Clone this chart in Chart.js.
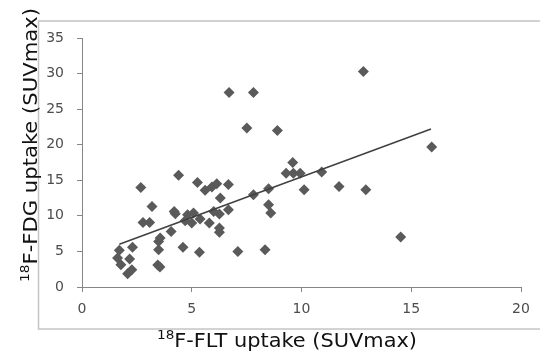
<!DOCTYPE html>
<html>
<head>
<meta charset="utf-8">
<script src="https://cdn.jsdelivr.net/npm/chart.js"></script>
<style>
    html, body { margin: 0; padding: 0; background: #fff; }
</style>
</head>
<body>
<canvas id="myChart" width="540" height="352"></canvas>
<script>
// values
const fltValues = [1.62, 1.7, 1.77, 2.08, 2.17, 2.27, 2.3, 2.68, 2.78, 3.08,
    3.19, 3.49, 3.56, 3.49, 3.45, 3.55, 4.06, 4.2, 4.25, 4.4,
    4.6, 4.7, 4.81, 5.0, 5.08, 5.26, 5.35, 5.38, 5.61, 5.8,
    5.92, 6.0, 6.14, 6.26, 6.3, 6.26, 6.26, 6.67, 6.67, 6.7,
    7.1, 7.51, 7.81, 7.81, 8.34, 8.5, 8.5, 8.6, 8.9, 9.3,
    9.6, 9.63, 9.94, 10.12, 10.92, 11.71, 12.82, 12.93, 14.52, 15.93]
const fdgValues = [4.07, 5.15, 3.13, 1.87, 3.93, 2.43, 5.6, 14.0, 9.08, 9.08,
    11.33, 6.4, 6.9, 5.24, 3.1, 2.8, 7.8, 10.63, 10.3, 15.7,
    5.6, 9.3, 10.16, 9.0, 10.4, 14.7, 4.87, 9.56, 13.6, 9.0,
    14.05, 10.63, 14.5, 10.26, 12.5, 8.3, 7.68, 14.4, 10.87, 27.35,
    5.0, 22.35, 27.35, 12.97, 5.24, 13.8, 11.57, 10.4, 22.0, 16.0,
    17.5, 16.0, 16.0, 13.68, 16.16, 14.14, 30.3, 13.68, 7.03, 19.68]
const trendX = [1.7, 15.9]
const trendY = [6.0, 22.2]
const xTitle = ['18', 'F-FLT uptake (SUVmax)']
const yTitle = ['18', 'F-FDG uptake (SUVmax)']

// title with a superscript prefix, stretched a little to the reference length
const drawTitle = (c, parts, x, y, angle, length) => {
    c.save()
    c.translate(x, y)
    c.rotate(angle)
    c.font = '13px "DejaVu Sans"'
    let w = c.measureText(parts[0]).width
    c.font = '20px "DejaVu Sans"'
    let total = w + c.measureText(parts[1]).width
    c.scale(length / total, 1)
    c.fillStyle = '#111'
    c.textBaseline = 'alphabetic'
    c.fillText(parts[1], w, 0)
    c.font = '13px "DejaVu Sans"'
    c.fillText(parts[0], 0, -8)
    c.restore()
};

const frameAndTitles = {
    id: 'frameAndTitles',
    beforeDraw(chart) {
        let c = chart.ctx
        c.save()
        c.strokeStyle = '#c4c4c4'
        c.lineWidth = 1.5
        c.strokeRect(38.5, 21, 520, 308)
        c.restore()
    },
    afterDraw(chart) {
        drawTitle(chart.ctx, xTitle, 157, 347, 0, 260)
        drawTitle(chart.ctx, yTitle, 37, 282, -Math.PI / 2, 274)
    }
};

let ctx = document.getElementById('myChart');

new Chart(ctx, {
    type: 'scatter',
    data: {
        datasets: [{
            type: 'line',
            data: trendX.map((x, i) => ({ x: x, y: trendY[i] })),
            borderColor: '#404040',
            borderWidth: 1.5,
            pointRadius: 0,
            fill: false
        },
        {
            data: fltValues.map((x, i) => ({ x: x, y: fdgValues[i] })),
            pointStyle: 'rectRot',
            pointRadius: 5.5,
            borderWidth: 0,
            backgroundColor: '#5a5a5a'
        }]
    },
    options: {
        responsive: false,
        animation: false,
        events: [],
        layout: {
            padding: { top: 38, right: 19, left: 0, bottom: 0 }
        },
        scales: {
            x: {
                type: 'linear',
                min: 0,
                max: 20,
                afterFit: (s) => { s.height = 65 },
                ticks: {
                    stepSize: 5,
                    color: '#4d4d4d',
                    padding: 9,
                    font: { family: 'DejaVu Sans', size: 14 }
                },
                grid: { drawOnChartArea: false, tickLength: 5, color: '#868686' },
                border: { color: '#868686' }
            },
            y: {
                min: 0,
                max: 35,
                afterFit: (s) => { s.width = 82 },
                ticks: {
                    stepSize: 5,
                    color: '#4d4d4d',
                    padding: 13,
                    font: { family: 'DejaVu Sans', size: 14 }
                },
                grid: { drawOnChartArea: false, tickLength: 5, color: '#868686' },
                border: { color: '#868686' }
            }
        },
        plugins: {
            legend: { display: false },
            tooltip: { enabled: false },
            title: { display: false }
        }
    },
    plugins: [frameAndTitles]
});
</script>
</body>
</html>
